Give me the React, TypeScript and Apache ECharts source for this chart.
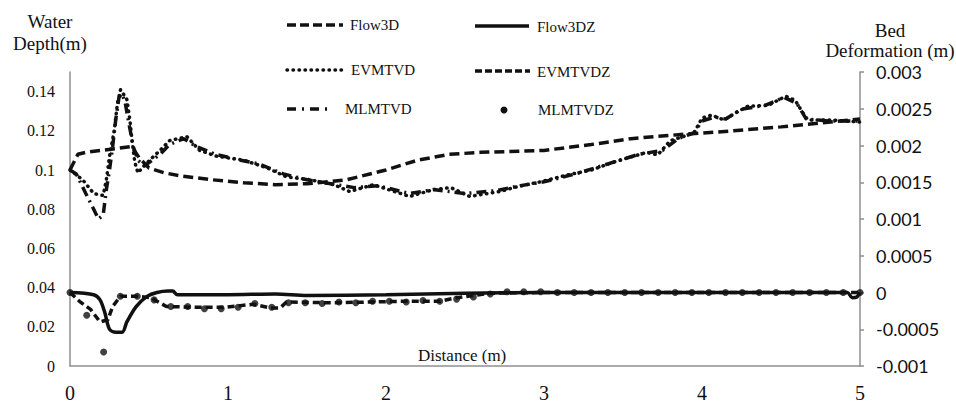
import React, { useEffect, useRef } from "react";
import * as echarts from "echarts";

// ---- data (x = distance in m) ----
const xTicks = [0, 1, 2, 3, 4, 5];

const flow3D: number[][] = [
  [0, 0.1], [0.05, 0.108], [0.1, 0.109], [0.2, 0.11], [0.3, 0.111], [0.39, 0.112],
  [0.44, 0.106], [0.5, 0.101], [0.6, 0.0985], [0.7, 0.097], [0.9, 0.095], [1.1, 0.0935],
  [1.3, 0.0925], [1.5, 0.093], [1.75, 0.095], [2.0, 0.1], [2.2, 0.105], [2.4, 0.108],
  [2.6, 0.109], [3.0, 0.11], [3.3, 0.113], [3.55, 0.116], [3.85, 0.118], [4.2, 0.12],
  [4.5, 0.122], [4.75, 0.124], [5, 0.126],
];

const evmtvd: number[][] = [
  [0, 0.1], [0.08, 0.095], [0.15, 0.088], [0.21, 0.087], [0.23, 0.095], [0.25, 0.107],
  [0.28, 0.12], [0.3, 0.134], [0.32, 0.141], [0.36, 0.136], [0.38, 0.125], [0.39, 0.117],
  [0.41, 0.104], [0.43, 0.0985], [0.46, 0.1015], [0.53, 0.107], [0.57, 0.11], [0.63, 0.115],
  [0.74, 0.117], [0.82, 0.11], [0.93, 0.107], [1.1, 0.105], [1.25, 0.101], [1.37, 0.0965],
  [1.52, 0.095], [1.67, 0.0925], [1.77, 0.089], [1.92, 0.0925], [2.15, 0.0865], [2.3, 0.09],
  [2.41, 0.091], [2.53, 0.0865], [2.72, 0.089], [2.83, 0.0915], [2.98, 0.094], [3.15, 0.0975],
  [3.3, 0.1], [3.44, 0.104], [3.65, 0.109], [3.72, 0.1077], [3.8, 0.115], [3.88, 0.117],
  [3.95, 0.119], [4.0, 0.1265], [4.06, 0.128], [4.14, 0.1255], [4.22, 0.1295], [4.29, 0.1325],
  [4.42, 0.133], [4.53, 0.1377], [4.59, 0.1355], [4.64, 0.129], [4.67, 0.1255], [4.82, 0.1255],
  [5, 0.1245],
];

const mlmtvd: number[][] = [
  [0, 0.1], [0.04, 0.098], [0.1, 0.088], [0.15, 0.08], [0.18, 0.075], [0.21, 0.077],
  [0.23, 0.09], [0.25, 0.1], [0.27, 0.112], [0.29, 0.126], [0.31, 0.137], [0.33, 0.139],
  [0.35, 0.134], [0.37, 0.125], [0.4, 0.112], [0.43, 0.105], [0.47, 0.102], [0.52, 0.105],
  [0.57, 0.108], [0.63, 0.113], [0.72, 0.116], [0.8, 0.112], [0.92, 0.108], [1.08, 0.105],
  [1.2, 0.103], [1.35, 0.098], [1.5, 0.095], [1.65, 0.093], [1.8, 0.091], [1.95, 0.092],
  [2.15, 0.088], [2.3, 0.09], [2.5, 0.088], [2.7, 0.0895], [2.85, 0.092], [3.0, 0.094],
  [3.2, 0.098], [3.4, 0.103], [3.6, 0.108], [3.75, 0.11], [3.85, 0.116], [3.95, 0.119],
  [4.0, 0.125], [4.08, 0.127], [4.15, 0.126], [4.25, 0.131], [4.4, 0.133], [4.52, 0.137],
  [4.6, 0.134], [4.66, 0.126], [4.8, 0.125], [5, 0.125],
];

const flow3DZ: number[][] = [
  [0, 0], [0.15, -0.00003], [0.19, -0.0001], [0.22, -0.00027], [0.25, -0.0005],
  [0.29, -0.00054], [0.33, -0.00054], [0.36, -0.0004], [0.42, -0.00019], [0.49, -0.00005],
  [0.55, 0], [0.62, 0.00002], [0.65, 0.00002], [0.68, -0.00003], [1.0, -0.00003],
  [1.3, -0.00002], [1.5, -0.00004], [2.0, -0.00003], [2.5, -0.00001], [3.0, 0], [4.0, 0],
  [4.92, 0], [4.95, -0.00007], [4.98, -0.00006], [5, 0],
];

const evmtvdZ: number[][] = [
  [0, 0], [0.06, -0.00012], [0.13, -0.00023], [0.19, -0.0004], [0.24, -0.00037],
  [0.27, -0.00019], [0.32, -0.00005], [0.42, -0.00005], [0.51, -0.00007], [0.61, -0.00019],
  [0.78, -0.0002], [0.99, -0.0002], [1.16, -0.00016], [1.27, -0.00021], [1.33, -0.00021],
  [1.37, -0.00013], [1.67, -0.00014], [2.09, -0.00012], [2.34, -0.00012], [2.45, -0.00007],
  [2.66, -0.00001], [3.0, 0], [5, 0],
];

const mlmtvdZX = [
  0, 0.106, 0.213, 0.319, 0.426, 0.532, 0.638, 0.745, 0.851, 0.957, 1.064, 1.17, 1.277,
  1.383, 1.489, 1.596, 1.702, 1.809, 1.915, 2.021, 2.128, 2.234, 2.34, 2.447, 2.553, 2.66,
  2.766, 2.872, 2.979, 3.085, 3.191, 3.298, 3.404, 3.511, 3.617, 3.723, 3.83, 3.936, 4.043,
  4.149, 4.255, 4.362, 4.468, 4.574, 4.681, 4.787, 4.894, 5.0,
];
const mlmtvdZY = [
  0, -0.00031, -0.00081, -0.00005, -0.00005, -0.0001, -0.00019, -0.00019, -0.00022, -0.00022,
  -0.0002, -0.00015, -0.0002, -0.00014, -0.00014, -0.00015, -0.00013, -0.00014, -0.00012,
  -0.00012, -0.00013, -0.00011, -0.00012, -0.00009, -0.00006, -0.00002, 0.00001, 0.00001,
  0.00001, 0, 0, 0, 0, 0, 0, 0, 0, 0, 0, 0, 0, 0, 0, 0, 0, 0, 0, 0,
];

const BLACK = "#111";
const AXIS = "#8f8f8f";
const SERIF = "Liberation Serif";

export default function App() {
  const ref = useRef<HTMLDivElement>(null);
  useEffect(() => {
    if (!ref.current) return;
    const chart = echarts.init(ref.current, undefined, { renderer: "svg" });
    const lineW = 3.5;
    const txt = (text: string, x: number, y: number, size: number, align = "left") => ({
      type: "text",
      x,
      y,
      style: {
        text,
        fontFamily: SERIF,
        fontSize: size,
        fill: BLACK,
        align,
        verticalAlign: "middle",
      },
    });
    const legLine = (x1: number, x2: number, y: number, dash: any, cap = "butt") => ({
      type: "line",
      shape: { x1, y1: y, x2, y2: y },
      style: { stroke: BLACK, lineWidth: lineW, lineDash: dash, lineCap: cap },
    });
    chart.setOption({
      animation: false,
      backgroundColor: "#fff",
      grid: { left: 70, right: 96, top: 72, bottom: 35 },
      xAxis: {
        type: "value",
        min: 0,
        max: 5,
        interval: 1,
        axisLine: { show: true, lineStyle: { color: AXIS, width: 1.5 } },
        axisTick: { show: false },
        splitLine: { show: false },
        axisLabel: {
          margin: 17,
          fontFamily: SERIF,
          fontSize: 20,
          color: BLACK,
          formatter: (v: number) => (xTicks.includes(v) ? String(v) : ""),
        },
      },
      yAxis: [
        {
          type: "value",
          min: 0,
          max: 0.15,
          interval: 0.02,
          axisLine: { show: true, lineStyle: { color: AXIS, width: 1.5 } },
          axisTick: { show: false },
          splitLine: { show: false },
          axisLabel: {
            margin: 15,
            fontFamily: SERIF,
            fontSize: 16,
            color: BLACK,
            showMaxLabel: false,
            formatter: (v: number) => (v > 0.145 ? "" : String(Number(v.toFixed(2)))),
          },
        },
        {
          type: "value",
          min: -0.001,
          max: 0.003,
          interval: 0.0005,
          position: "right",
          axisLine: { show: true, lineStyle: { color: AXIS, width: 1.5 } },
          axisTick: { show: true, inside: false, length: 4, lineStyle: { color: AXIS, width: 1.5 } },
          splitLine: { show: false },
          axisLabel: {
            margin: 16,
            fontFamily: "Lato",
            fontSize: 18,
            color: BLACK,
            formatter: (v: number) => String(Number(v.toFixed(4))),
          },
        },
      ],
      series: [
        {
          name: "Flow3D",
          type: "line",
          data: flow3D,
          symbol: "none",
          lineStyle: { color: BLACK, width: lineW, type: [10, 5] },
        },
        {
          name: "EVMTVD",
          type: "line",
          data: evmtvd,
          symbol: "none",
          lineStyle: { color: BLACK, width: lineW, type: [0.5, 5.5], cap: "round" },
        },
        {
          name: "MLMTVD",
          type: "line",
          data: mlmtvd,
          symbol: "none",
          lineStyle: { color: BLACK, width: lineW, type: [10, 5, 2, 5] },
        },
        {
          name: "Flow3DZ",
          type: "line",
          yAxisIndex: 1,
          data: flow3DZ,
          symbol: "none",
          smooth: 0.3,
          lineStyle: { color: BLACK, width: lineW },
        },
        {
          name: "EVMTVDZ",
          type: "line",
          yAxisIndex: 1,
          data: evmtvdZ,
          symbol: "none",
          lineStyle: { color: BLACK, width: lineW, type: [7, 4] },
        },
        {
          name: "MLMTVDZ",
          type: "scatter",
          yAxisIndex: 1,
          data: mlmtvdZX.map((x, i) => [x, mlmtvdZY[i]]),
          symbol: "circle",
          symbolSize: 7,
          itemStyle: { color: BLACK },
        },
      ],
      graphic: [
        txt("Water", 50, 21, 19, "center"),
        txt("Depth(m)", 50, 43, 19, "center"),
        txt("Bed", 890, 30, 19, "center"),
        txt("Deformation (m)", 890, 50, 19, "center"),
        txt("Distance (m)", 418, 355, 17),
        legLine(287, 343, 25, [9, 4]),
        txt("Flow3D", 350, 25, 15),
        legLine(475, 529, 26, null),
        txt("Flow3DZ", 537, 27, 15),
        legLine(287, 343, 70, [0.5, 5.5], "round"),
        txt("EVMTVD", 351, 70, 15),
        legLine(475, 530, 71, [7, 3]),
        txt("EVMTVDZ", 537, 72, 15),
        legLine(287, 333, 109, [9, 6, 2, 6]),
        txt("MLMTVD", 345, 109, 15),
        { type: "circle", shape: { cx: 504, cy: 110, r: 3.5 }, style: { fill: BLACK } },
        txt("MLMTVDZ", 538, 110, 15),
      ],
    });
    return () => chart.dispose();
  }, []);
  return (
    <div
      ref={ref}
      style={{ position: "absolute", left: 0, top: 0, width: 956, height: 403, background: "#fff" }}
    />
  );
}
